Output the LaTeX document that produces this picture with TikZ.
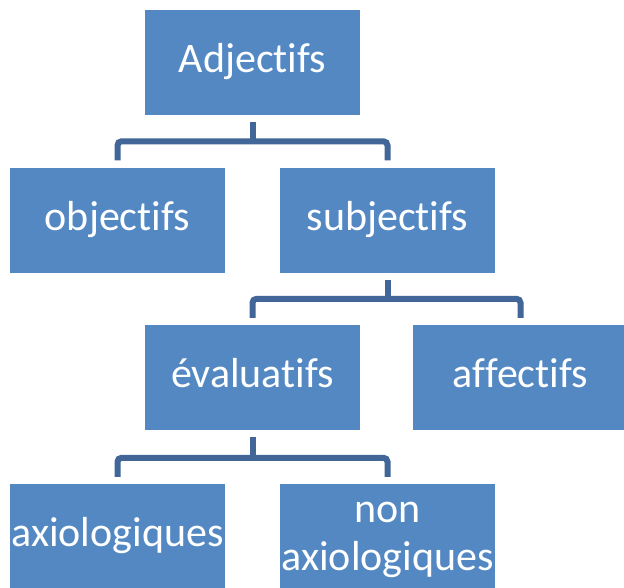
\documentclass[tikz,border=0pt]{standalone}
\usepackage{fontspec}
\setmainfont{Carlito}[RawFeature={-liga;-clig;-dlig}]
\usetikzlibrary{calc}
\definecolor{boxblue}{RGB}{83,136,195}
\definecolor{connblue}{RGB}{66,102,152}
\begin{document}
\begin{tikzpicture}[x=1pt,y=-1pt,
  box/.style={rectangle, fill=boxblue, draw=none, minimum width=215pt, minimum height=105pt,
    inner sep=0pt, text=white, font=\fontsize{42}{48}\selectfont, text height=30pt, text depth=10pt},
  twoline/.style={align=center, text height=78pt, text depth=10pt},
  conn/.style={draw=connblue, line width=6pt, rounded corners=4pt}]
\useasboundingbox (0,0) rectangle (624,587);
\clip (0,0) rectangle (624,587);
\fill[white] (0,0) rectangle (624,587);
\node[box] (adj) at (252.5,62.5) {Adjectifs};
\node[box] (obj) at (117.5,220) {objectifs};
\node[box] (sub) at (387.5,220) {subjectifs};
\node[box] (eva) at (252.5,377.5) {évaluatifs};
\node[box] (aff) at (520.5,377.5) {affectifs};
\node[box] (axi) at (117.5,536.5) {axiologiques};
\node[box, twoline] (nax) at (387.5,536.5) {non\\axiologiques};
\foreach \p/\a/\b in {adj/obj/sub, sub/eva/aff, eva/axi/nax}{
  \draw[conn] ($(\a.north)+(0,-7)$) |- ($(\b.north)+(0,-26)$) -- ($(\b.north)+(0,-7)$);
  \draw[conn] ($(\p.south)+(0,7)$) -- ($(\p.south)+(0,27)$);
}
\end{tikzpicture}
\end{document}
